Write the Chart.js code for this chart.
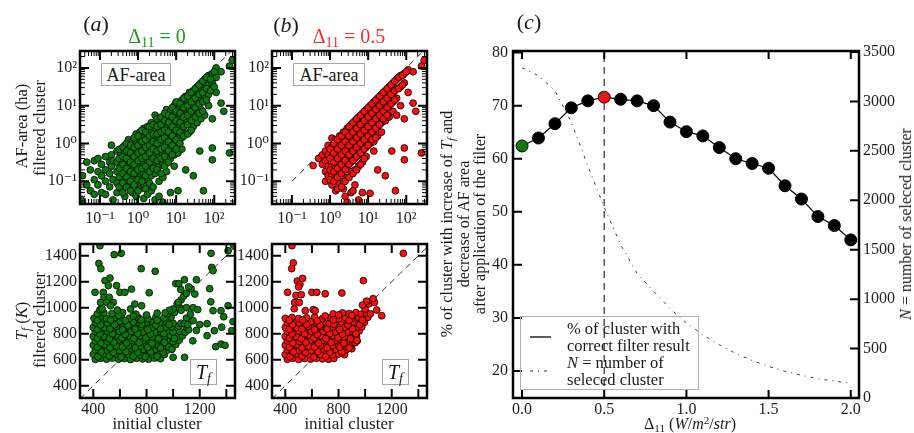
<!DOCTYPE html>
<html>
<head>
<meta charset="utf-8">
<script src="https://cdn.jsdelivr.net/npm/chart.js@4.4.1/dist/chart.umd.min.js"></script>
<style>
  html, body { margin: 0; padding: 0; background: #fff; }
  #fig { position: relative; width: 914px; height: 433px; overflow: hidden;
         font-family: "Liberation Serif", "DejaVu Serif", serif; color: #1a1a1a; }
  #fig canvas { position: absolute; z-index: 1; }
  .t { position: absolute; white-space: nowrap; line-height: 1; z-index: 3; }
  .c { transform: translate(-50%, -50%); }
  .r { transform: translate(-50%, -50%) rotate(-90deg); }
  .l { transform: translate(0, -50%); }
  .box { position: absolute; border: 1.5px solid #a6a6a6; background: #fff; box-sizing: border-box;
         display: flex; align-items: center; justify-content: center; z-index: 3; line-height: 1; }
  .legend { position: absolute; border: 1.5px solid #b0b0b0; box-sizing: border-box; z-index: 3; }
  i { font-style: italic; }
  sub { font-size: 0.7em; vertical-align: -0.25em; line-height: 0; }
  sup { font-size: 0.7em; vertical-align: 0.45em; line-height: 0; }
  svg { position: absolute; left: 0; top: 0; z-index: 3; }
</style>
</head>
<body>
<div id="fig">
  <!-- panel letters and titles -->
  <div class="t c" style="left:96px;top:24px;font-size:22px">(<i>a</i>)</div>
  <div class="t c" style="left:286px;top:25px;font-size:22px">(<i>b</i>)</div>
  <div class="t c" style="left:529px;top:22px;font-size:22px">(<i>c</i>)</div>
  <div class="t c" style="left:157px;top:36px;font-size:20px;color:#199a19">Δ<sub>11</sub> = 0</div>
  <div class="t c" style="left:349px;top:36px;font-size:20px;color:#ff2a2a">Δ<sub>11</sub> = 0.5</div>

  <!-- axis titles of panels (a) and (b) -->
  <div class="t r" style="left:22px;top:126px;font-size:16.5px">AF-area (ha)</div>
  <div class="t r" style="left:40px;top:128px;font-size:16.5px">filtered cluster</div>
  <div class="t r" style="left:22px;top:321px;font-size:16.5px"><i>T<sub>f</sub></i> (<i>K</i>)</div>
  <div class="t r" style="left:40px;top:320px;font-size:16.5px">filtered cluster</div>
  <div class="t c" style="left:157px;top:423px;font-size:17px">initial cluster</div>
  <div class="t c" style="left:349px;top:423px;font-size:17px">initial cluster</div>

  <!-- inset labels -->
  <div class="box" style="left:101px;top:63px;width:70px;height:23px;font-size:18px">AF-area</div>
  <div class="box" style="left:293px;top:63px;width:72px;height:23px;font-size:18px">AF-area</div>
  <div class="box" style="left:190px;top:359px;width:27px;height:26px;font-size:20px"><i>T<sub>f</sub></i></div>
  <div class="box" style="left:382px;top:359px;width:27px;height:26px;font-size:20px"><i>T<sub>f</sub></i></div>

  <!-- axis titles of panel (c) -->
  <div class="t r" style="left:447px;top:224px;font-size:16px">% of cluster with increase of <i>T<sub>f</sub></i> and</div>
  <div class="t r" style="left:464px;top:224px;font-size:16px">decrease of AF area</div>
  <div class="t r" style="left:480px;top:224px;font-size:16px">after application of the filter</div>
  <div class="t r" style="left:906px;top:224px;font-size:16px"><i>N</i> = number of seleced cluster</div>
  <div class="t c" style="left:690px;top:424px;font-size:16px">Δ<sub>11</sub> (<i>W</i>/<i>m</i><sup>2</sup>/<i>str</i>)</div>

  <!-- legend of panel (c) -->
  <div class="legend" style="left:520px;top:316px;width:179px;height:74px"></div>
  <svg width="914" height="433">
    <line x1="530" y1="337" x2="551" y2="337" stroke="#000" stroke-width="1.3"/>
    <line x1="530" y1="371" x2="552" y2="371" stroke="#333" stroke-width="1" stroke-dasharray="3 5 1 5"/>
  </svg>
  <div class="t l" style="left:567px;top:329px;font-size:16.5px">% of cluster with</div>
  <div class="t l" style="left:567px;top:346px;font-size:16.5px">correct filter result</div>
  <div class="t l" style="left:567px;top:363px;font-size:16.5px"><i>N</i> = number of</div>
  <div class="t l" style="left:567px;top:380px;font-size:16.5px">seleced cluster</div>
</div>

<script>
// ---------- data ----------
// AF-area (ha): [initial cluster, filtered cluster], threshold Δ11 = 0
const areaA = [
  [0.035,0.03],[0.035,0.14],[0.045,0.32],[0.045,0.08],[0.056,0.2],[0.056,0.056],
  [0.071,0.35],[0.071,0.11],[0.071,0.045],[0.089,0.4],[0.089,0.18],[0.089,0.08],
  [0.11,0.28],[0.11,0.14],[0.11,0.05],[0.14,0.45],[0.14,0.2],[0.14,0.1],[0.14,0.045],
  [0.18,0.32],[0.18,0.16],[0.18,0.071],[0.2,0.9],[0.2,0.5],[0.2,0.25],
  [0.22,0.35],[0.22,0.11],[0.22,0.032],[0.28,0.63],[0.28,0.32],[0.28,0.18],[0.28,0.089],[0.28,0.05],
  [0.35,0.5],[0.35,0.25],[0.35,0.126],[0.35,0.063],
  [0.45,0.9],[0.45,0.56],[0.45,0.35],[0.45,0.2],[0.45,0.1],[0.45,0.04],
  [0.56,1.26],[0.56,0.71],[0.56,0.4],[0.56,0.25],[0.56,0.14],[0.56,0.071],
  [0.71,1.12],[0.71,0.63],[0.71,0.35],[0.71,0.2],[0.71,0.11],[0.71,0.05],
  [0.89,1.78],[0.89,1.0],[0.89,0.56],[0.89,0.32],[0.89,0.18],[0.89,0.089],[0.89,0.04],
  [1.12,2.0],[1.12,1.26],[1.12,0.71],[1.12,0.45],[1.12,0.25],[1.12,0.126],[1.12,0.063],
  [1.41,2.5],[1.41,1.41],[1.41,0.89],[1.41,0.5],[1.41,0.28],[1.41,0.16],[1.41,0.08],[1.41,0.035],
  [1.78,2.8],[1.78,1.78],[1.78,1.0],[1.78,0.63],[1.78,0.35],[1.78,0.2],[1.78,0.11],[1.78,0.045],
  [2.24,3.55],[2.24,2.0],[2.24,1.26],[2.24,0.71],[2.24,0.45],[2.24,0.25],[2.24,0.14],[2.24,0.056],
  [2.8,5.6],[2.8,2.5],[2.8,1.58],[2.8,1.0],[2.8,0.56],[2.8,0.32],[2.8,0.16],[2.8,0.032],
  [3.55,3.55],[3.55,2.24],[3.55,1.26],[3.55,0.79],[3.55,0.45],[3.55,0.25],[3.55,0.1],[3.55,0.04],
  [4.5,4.0],[4.5,2.5],[4.5,1.58],[4.5,0.89],[4.5,0.5],[4.5,0.28],[4.5,0.126],[4.5,0.028],
  [5.6,7.9],[5.6,5.0],[5.6,3.16],[5.6,1.78],[5.6,1.0],[5.6,0.56],[5.6,0.32],[5.6,0.18],
  [7.1,7.1],[7.1,4.0],[7.1,2.24],[7.1,1.26],[7.1,0.71],[7.1,0.4],[7.1,0.05],
  [8.9,10],[8.9,5.6],[8.9,3.16],[8.9,1.78],[8.9,1.0],[8.9,0.5],[8.9,0.25],
  [11.2,11.2],[11.2,6.3],[11.2,3.55],[11.2,2.0],[11.2,1.12],[11.2,0.56],[11.2,0.056],
  [14.1,14.1],[14.1,7.9],[14.1,4.5],[14.1,2.5],[14.1,1.41],[14.1,0.71],
  [17.8,17.8],[17.8,10],[17.8,5.6],[17.8,3.16],[17.8,1.78],[17.8,0.2],
  [22.4,22.4],[22.4,12.6],[22.4,7.1],[22.4,4.0],[22.4,2.0],
  [28.2,25],[28.2,15.8],[28.2,8.9],[28.2,5.0],[28.2,2.8],[28.2,0.14],
  [35.5,31.6],[35.5,20],[35.5,11.2],[35.5,6.3],[35.5,3.55],[41.7,0.63],
  [44.7,40],[44.7,25],[44.7,14.1],[44.7,7.9],[44.7,4.5],[52,0.056],
  [56,50],[56,28.2],[56,15.8],[56,5.6],[71,63],[71,35.5],[71,20],[71,10],
  [89,71],[89,40],[89,4.5],[89,0.76],[89,0.37],[112,100],[112,56],[112,22.4],
  [151,11.7],[151,79],[178,7.1],[251,0.56],[251,112],[295,158],
  [0.32,0.7],[0.32,0.4],[0.32,0.22],[0.32,0.13],[0.32,0.071],
  [0.4,0.8],[0.4,0.45],[0.4,0.28],[0.4,0.16],[0.4,0.09],[0.4,0.05],
  [0.5,1.0],[0.5,0.63],[0.5,0.4],[0.5,0.22],[0.5,0.13],[0.5,0.07],
  [0.63,0.9],[0.63,0.56],[0.63,0.32],[0.63,0.18],[0.63,0.1],[0.63,0.056],
  [0.79,1.41],[0.79,0.79],[0.79,0.45],[0.79,0.28],[0.79,0.16],[0.79,0.08],
  [1.0,1.58],[1.0,0.89],[1.0,0.56],[1.0,0.35],[1.0,0.2],[1.0,0.11],[1.0,0.056],
  [1.26,2.24],[1.26,1.12],[1.26,0.63],[1.26,0.4],[1.26,0.22],[1.26,0.1],
  [1.58,2.0],[1.58,1.26],[1.58,0.79],[1.58,0.45],[1.58,0.25],[1.58,0.14],[1.58,0.063],
  [2.0,2.8],[2.0,1.58],[2.0,0.89],[2.0,0.56],[2.0,0.32],[2.0,0.18],[2.0,0.089],
  [2.5,3.16],[2.5,1.78],[2.5,1.12],[2.5,0.71],[2.5,0.4],[2.5,0.22],[2.5,0.071],
  [3.16,4.5],[3.16,2.8],[3.16,1.78],[3.16,1.0],[3.16,0.63],[3.16,0.35],[3.16,0.2],
  [4.0,5.0],[4.0,3.16],[4.0,2.0],[4.0,1.26],[4.0,0.71],[4.0,0.4],[4.0,0.16],
  [5.0,6.3],[5.0,4.0],[5.0,2.24],[5.0,1.41],[5.0,0.79],[5.0,0.45],[5.0,0.25],
  [6.3,5.6],[6.3,3.55],[6.3,2.0],[6.3,1.12],[6.3,0.63],[6.3,0.32],
  [7.9,8.9],[7.9,5.0],[7.9,2.8],[7.9,1.58],[7.9,0.89],[7.9,0.5],
  [10,12.6],[10,7.1],[10,4.0],[10,2.24],[10,1.26],[10,0.71],
  [12.6,11.2],[12.6,6.3],[12.6,3.55],[12.6,2.0],[12.6,1.0],
  [15.8,15.8],[15.8,8.9],[15.8,5.0],[15.8,2.8],[15.8,1.58],
  [20,17.8],[20,10],[20,5.6],[20,3.16],[20,1.78],
  [25,22.4],[25,12.6],[25,7.1],[25,4.0],[25,2.24],
  [31.6,28.2],[31.6,15.8],[31.6,8.9],[31.6,5.0],
  [40,35.5],[40,20],[40,11.2],[40,6.3],
  [50,44.7],[50,22.4],[50,12.6],[50,7.1],
  [63,56],[63,28.2],[63,14.1],[80,50],[80,25],[100,79],[100,31.6]
];

// AF-area (ha), threshold Δ11 = 0.5
const areaB = [
  [0.36,0.26],[0.5,0.4],[0.63,0.5],[0.63,0.28],
  [0.76,0.63],[0.76,0.35],[0.76,0.18],[0.76,0.1],
  [0.89,0.89],[0.89,0.5],[0.89,0.25],[0.89,0.14],
  [1.12,1.38],[1.12,0.79],[1.12,0.45],[1.12,0.25],[1.12,0.14],[1.12,0.08],
  [1.41,1.26],[1.41,0.71],[1.41,0.4],[1.41,0.22],[1.41,0.11],[1.41,0.056],
  [1.78,1.58],[1.78,0.89],[1.78,0.5],[1.78,0.28],[1.78,0.16],[1.78,0.089],
  [2.24,2.0],[2.24,1.12],[2.24,0.63],[2.24,0.35],[2.24,0.2],[2.24,0.1],[2.24,0.063],
  [2.8,2.5],[2.8,1.41],[2.8,0.79],[2.8,0.45],[2.8,0.25],[2.8,0.126],[2.8,0.028],
  [3.55,3.16],[3.55,1.78],[3.55,1.0],[3.55,0.56],[3.55,0.32],[3.55,0.18],[3.55,0.05],
  [4.5,4.0],[4.5,2.24],[4.5,1.26],[4.5,0.71],[4.5,0.4],[4.5,0.2],[4.5,0.08],
  [5.6,5.0],[5.6,2.8],[5.6,1.58],[5.6,0.89],[5.6,0.5],[5.6,0.25],[5.6,0.032],
  [7.1,6.3],[7.1,3.55],[7.1,2.0],[7.1,1.12],[7.1,0.63],[7.1,0.32],[7.1,0.05],
  [8.9,7.9],[8.9,4.5],[8.9,2.5],[8.9,1.41],[8.9,0.79],[8.9,0.45],
  [11.2,10],[11.2,5.6],[11.2,3.16],[11.2,1.78],[11.2,1.0],[11.2,0.048],
  [14.1,12.6],[14.1,7.1],[14.1,4.0],[14.1,2.24],[14.1,1.12],[14.1,0.63],
  [17.8,15.8],[17.8,8.9],[17.8,5.0],[17.8,2.8],[17.8,1.58],[17.8,0.2],
  [22.4,20],[22.4,11.2],[22.4,6.3],[22.4,3.55],[22.4,2.0],
  [28.2,25],[28.2,14.1],[28.2,7.9],[28.2,4.0],[28.2,0.14],
  [35.5,31.6],[35.5,17.8],[35.5,10],[35.5,5.0],[41.7,0.63],
  [44.7,40],[44.7,22.4],[44.7,12.6],[44.7,7.1],[52,0.056],
  [56,50],[56,28.2],[56,15.8],[56,5.6],[71,63],[71,31.6],[71,10],
  [89,71],[89,40],[89,4.5],[89,0.76],[89,0.37],[112,89],[112,22.4],
  [151,11.7],[151,79],[178,7.1],[251,0.56],[251,112],[295,158],
  [1.0,0.71],[1.0,0.4],[1.0,0.2],[1.0,0.11],
  [1.26,1.0],[1.26,0.56],[1.26,0.32],[1.26,0.18],[1.26,0.1],
  [1.58,1.26],[1.58,0.71],[1.58,0.4],[1.58,0.22],[1.58,0.126],[1.58,0.063],
  [2.0,1.58],[2.0,0.89],[2.0,0.5],[2.0,0.28],[2.0,0.16],[2.0,0.071],
  [2.5,2.0],[2.5,1.12],[2.5,0.63],[2.5,0.35],[2.5,0.2],[2.5,0.1],[2.5,0.04],
  [3.16,2.8],[3.16,1.58],[3.16,0.89],[3.16,0.5],[3.16,0.28],[3.16,0.126],
  [4.0,3.55],[4.0,2.0],[4.0,1.12],[4.0,0.63],[4.0,0.35],[4.0,0.16],[4.0,0.056],
  [5.0,4.5],[5.0,2.5],[5.0,1.41],[5.0,0.79],[5.0,0.45],[5.0,0.2],
  [6.3,5.6],[6.3,3.16],[6.3,1.78],[6.3,1.0],[6.3,0.56],[6.3,0.28],
  [7.9,7.1],[7.9,4.0],[7.9,2.24],[7.9,1.26],[7.9,0.71],[7.9,0.4],
  [10,8.9],[10,5.0],[10,2.8],[10,1.58],[10,0.89],
  [12.6,11.2],[12.6,6.3],[12.6,3.55],[12.6,2.0],[12.6,1.26],
  [15.8,14.1],[15.8,7.9],[15.8,4.5],[15.8,2.5],[15.8,1.41],
  [20,17.8],[20,10],[20,5.6],[20,3.16],
  [25,22.4],[25,12.6],[25,7.1],[25,4.5],
  [31.6,28.2],[31.6,15.8],[31.6,8.9],[31.6,5.6],
  [40,35.5],[40,20],[40,11.2],[50,44.7],[50,25],[50,14.1],
  [63,56],[63,28.2],[80,63],[80,35.5],[100,79]
];

// T_f (K): [initial cluster, filtered cluster], threshold Δ11 = 0
const tfA = [
  [415,602],[455,610],[500,604],[545,612],[590,603],[635,608],[680,601],[725,611],[770,606],[815,604],[860,612],[905,607],
  [400,641],[440,636],[485,645],[530,638],[575,644],[620,635],[665,642],[710,646],[755,637],[800,643],[845,639],[890,647],[935,640],
  [415,676],[460,681],[505,672],[550,679],[595,670],[640,677],[685,683],[730,674],[775,680],[820,671],[865,678],[910,684],[955,673],[990,681],
  [400,712],[440,707],[485,715],[530,709],[575,704],[620,713],[665,708],[710,716],[755,706],[800,711],[845,714],[890,705],[935,712],[980,709],[1020,716],
  [415,744],[460,750],[505,741],[550,747],[595,752],[640,743],[685,749],[730,740],[775,746],[820,751],[865,742],[910,748],[955,745],[1000,739],[1045,750],
  [400,779],[440,785],[485,776],[530,782],[575,788],[620,777],[665,783],[710,775],[755,786],[800,780],[845,774],[890,784],[935,778],[980,787],[1030,776],[1070,783],
  [415,816],[460,811],[505,820],[550,813],[595,818],[640,809],[685,817],[730,822],[775,812],[820,819],[865,810],[910,816],[955,821],[1000,813],[1050,818],[1090,811],
  [400,849],[440,855],[485,846],[530,852],[575,858],[620,847],[665,853],[710,844],[755,851],[800,857],[845,848],[890,854],[940,845],[990,852],[1040,858],[1100,850],
  [415,884],[460,890],[505,881],[550,887],[600,893],[650,882],[700,888],[750,879],[800,886],[850,891],[900,883],[950,889],[1000,880],
  [405,918],[450,925],[500,916],[555,922],[610,928],[670,917],[740,923],[810,915],[870,926],[930,920],[985,927],
  [430,952],[480,960],[540,955],[620,962],[720,950],[880,958],[960,953],[1010,963],
  [435,622],[520,628],[610,620],[700,627],[790,623],[880,626],[460,660],[550,655],[645,662],[735,657],[830,660],[925,658],
  [430,695],[525,690],[620,697],[715,692],[810,696],[905,690],[965,698],[455,728],[555,733],[650,726],[745,731],[840,727],[935,733],
  [430,765],[520,760],[615,767],[705,762],[795,768],[890,761],[1010,764],[450,798],[545,800],[640,794],[735,801],[830,797],[930,799],
  [430,832],[525,836],[620,829],[715,835],[810,831],[905,838],[455,868],[560,870],[660,865],[765,871],[870,866],[970,870],
  [430,902],[530,905],[640,900],[760,906],[880,903],[590,940],[700,936],[800,944],[450,985],[580,982],[680,990],
  [1000,990],[1030,1030],[1060,1060],[1080,1090],[1100,1110],[1050,1000],[970,980],[940,960],
  [450,1477],[557,1408],[610,1418],[442,1340],[457,1300],
  [413,1118],[488,1208],[525,1228],[513,1170],[575,1170],[600,1118],[637,1118],[687,1143],[475,1118],
  [480,1080],[520,1080],[455,1040],[500,1040],[550,1040],[467,990],[530,1015],[712,1028],[763,1015],
  [820,1115],[865,1280],[760,1300],
  [1020,1185],[1043,1185],[1085,1215],[1285,1418],[1413,1438],[1455,1480],[1290,1310],[1300,1285],
  [1175,1215],[1135,1145],[1163,1105],[1275,1146],[1283,1045],[1300,977],[1360,977],[1413,1015],
  [1380,930],[1450,893],[1310,823],[1365,850],[1440,823],[1320,700],[1360,720],[1390,710],
  [1255,785],[1255,877],[1148,745],[1086,618],[1000,618],[990,680],[1117,830],[1175,825],
  [1150,900],[1200,870],[1100,920],[1130,950],[1060,980],[1100,1000],[1150,1000],[1185,985],
  [1040,1040],[1057,1140],[1117,1160],[1060,880],[1085,875],[1110,870]
];

// T_f (K), threshold Δ11 = 0.5
const tfB = [
  [415,603],[455,610],[500,602],[545,609],[590,604],[635,611],[680,606],[725,603],[765,609],
  [400,640],[440,636],[485,645],[530,638],[575,644],[620,635],[665,642],[710,646],[755,637],[800,643],[845,638],
  [415,676],[460,681],[505,672],[550,679],[595,670],[640,677],[685,683],[730,674],[775,680],[820,671],[860,678],[900,684],
  [400,712],[440,707],[485,715],[530,709],[575,704],[620,713],[665,708],[710,716],[755,706],[800,711],[845,714],[890,705],
  [415,744],[460,750],[505,741],[550,747],[595,752],[640,743],[685,749],[730,740],[775,746],[820,751],[865,742],[910,748],[940,745],
  [400,779],[440,785],[485,776],[530,782],[575,788],[620,777],[665,783],[710,775],[755,786],[800,780],[845,774],[890,784],[935,778],
  [415,816],[460,811],[505,820],[550,813],[595,818],[640,809],[685,817],[730,822],[775,812],[820,819],[865,810],[910,816],[955,821],
  [400,849],[440,855],[485,846],[530,852],[575,858],[620,847],[665,853],[710,844],[755,851],[800,857],[845,848],[890,854],[935,845],[975,852],
  [415,884],[460,890],[505,881],[550,887],[595,893],[640,882],[685,888],[730,879],[775,886],[820,891],[865,883],[910,889],[955,880],[995,887],
  [400,918],[450,925],[500,916],[560,922],[620,928],[680,917],[740,923],[800,915],[850,926],[900,920],[950,927],[990,918],[1020,925],
  [760,952],[830,960],[880,955],[930,962],[970,950],[1010,958],[1040,953],
  [435,622],[525,626],[615,620],[705,625],[460,660],[550,655],[645,662],[735,657],[825,659],
  [430,695],[525,690],[620,697],[715,692],[810,696],[880,690],[455,728],[555,733],[650,726],[745,731],[840,727],[925,730],
  [430,765],[520,760],[615,767],[705,762],[795,768],[890,761],[450,798],[545,800],[640,794],[735,801],[830,797],[930,799],
  [430,832],[525,836],[620,829],[715,835],[810,831],[905,838],[455,868],[560,870],[660,865],[765,871],[870,866],[960,870],
  [430,902],[530,905],[640,900],[760,906],[880,903],[980,905],[700,936],[800,944],[900,940],
  [1000,990],[1030,1030],[1055,1055],[1070,1040],[1060,1070],[1010,1050],[980,1020],
  [450,1477],[460,1345],[448,1300],[490,1205],[510,1180],[530,1225],[500,1160],[417,1118],
  [480,1095],[520,1100],[470,1040],[505,1040],[467,992],[600,1118],[637,1118],[700,1107],
  [825,1113],[987,1208],[1087,982],[1125,938],[938,746],[1287,1418],[550,977],[610,985],[625,977]
];

// panel (c): threshold, share of correctly filtered clusters, number of selected clusters
const delta11 = [0.0,0.1,0.2,0.3,0.4,0.5,0.6,0.7,0.8,0.9,1.0,1.1,1.2,1.3,1.4,1.5,1.6,1.7,1.8,1.9,2.0];
const pctCorrect = [62.4,63.9,66.6,69.6,70.9,71.6,71.2,70.9,70.0,66.9,65.1,64.3,62.1,60.0,59.1,58.2,54.9,52.4,49.1,47.4,44.7];
const nSelected = [3340,3260,3110,2790,2350,1930,1550,1260,1080,905,760,640,540,450,380,320,270,230,195,170,150];

// tick values and labels
const logTicks = [0.1, 1, 10, 100];
const logLabels = ['10⁻¹', '10⁰', '10¹', '10²'];
const tfTicksY = [400, 600, 800, 1000, 1200, 1400];
const tfLabelsY = ['400', '600', '800', '1000', '1200', '1400'];
const tfTicksX = [400, 800, 1200];
const tfLabelsX = ['400', '800', '1200'];
const tfTickMarks = [400, 600, 800, 1000, 1200, 1400];
const cTicksX = [0, 0.5, 1, 1.5, 2];
const cLabelsX = ['0.0', '0.5', '1.0', '1.5', '2.0'];
const cTicksY = [20, 30, 40, 50, 60, 70, 80];
const cTicksN = [0, 500, 1000, 1500, 2000, 2500, 3000, 3500];

// ---------- drawing ----------
const fig = document.getElementById('fig');
const FONT = { family: "'Liberation Serif', 'DejaVu Serif', serif", size: 16 };
const L = 60, T = 16, B = 30;

function makeCanvas(rect, right) {
  const cv = document.createElement('canvas');
  const w = rect.w + L + right, h = rect.h + T + B;
  cv.width = w; cv.height = h;
  cv.style.left = (rect.x - L) + 'px';
  cv.style.top = (rect.y - T) + 'px';
  cv.style.width = w + 'px';
  cv.style.height = h + 'px';
  fig.insertBefore(cv, fig.firstChild);
  return cv;
}

function scale(o) {
  return {
    type: o.type, position: o.position, min: o.min, max: o.max,
    grid: { display: false, drawTicks: false },
    border: { display: false },
    ticks: {
      font: FONT, color: '#1e1e1e', padding: o.pad,
      autoSkip: false, maxRotation: 0, minRotation: 0,
      callback: (v, i) => o.labels[i]
    },
    afterBuildTicks: s => { s.ticks = o.ticks.map(v => ({ value: v })); },
    afterFit: s => { if (o.horizontal) s.height = o.size; else s.width = o.size; }
  };
}

function logMinor(min, max) {
  const out = [];
  for (let k = Math.floor(Math.log10(min)); k <= Math.ceil(Math.log10(max)); k++) {
    for (let m = 2; m <= 9; m++) {
      const v = m * Math.pow(10, k);
      if (v > min && v < max) out.push(v);
    }
  }
  return out;
}

// frame with inward tick marks on the chosen edges
function framePlugin(spec) {
  return {
    id: 'frameTicks',
    afterDatasetsDraw(chart) {
      const { ctx, chartArea: a, scales } = chart;
      ctx.save();
      ctx.strokeStyle = '#000';
      ctx.lineCap = 'butt';
      for (const s of spec) {
        const sc = scales[s.scale];
        const sets = [[s.major, s.len || 9, 2], [s.minor || [], 5, 1]];
        for (const [vals, len, lw] of sets) {
          ctx.lineWidth = lw;
          ctx.beginPath();
          for (const v of vals) {
            const p = sc.getPixelForValue(v);
            for (const e of s.edges) {
              if (e === 'bottom') { ctx.moveTo(p, a.bottom); ctx.lineTo(p, a.bottom - len); }
              if (e === 'top') { ctx.moveTo(p, a.top); ctx.lineTo(p, a.top + len); }
              if (e === 'left') { ctx.moveTo(a.left, p); ctx.lineTo(a.left + len, p); }
              if (e === 'right') { ctx.moveTo(a.right, p); ctx.lineTo(a.right - len, p); }
            }
          }
          ctx.stroke();
        }
      }
      ctx.lineWidth = 2.5;
      ctx.strokeRect(a.left, a.top, a.right - a.left, a.bottom - a.top);
      ctx.restore();
    }
  };
}

const baseOptions = (padRight) => ({
  responsive: false, animation: false, devicePixelRatio: 1, events: [],
  layout: { padding: { left: 0, right: padRight, top: T, bottom: 0 } },
  plugins: { legend: { display: false }, tooltip: { enabled: false }, title: { display: false } }
});

function scatterPanel(rect, points, color, diag, isLog) {
  const R = 6;
  const cv = makeCanvas(rect, R);
  const opts = baseOptions(R);
  let xs, ys, spec;
  if (isLog) {
    const xr = [0.03, 350], yr = [0.025, 280];
    xs = scale({ type: 'logarithmic', position: 'bottom', min: xr[0], max: xr[1], ticks: logTicks, labels: logLabels, pad: 5, horizontal: true, size: B });
    ys = scale({ type: 'logarithmic', position: 'left', min: yr[0], max: yr[1], ticks: logTicks, labels: logLabels, pad: 3, size: L });
    spec = [
      { scale: 'x', edges: ['bottom', 'top'], major: logTicks, minor: logMinor(xr[0], xr[1]) },
      { scale: 'y', edges: ['left', 'right'], major: logTicks, minor: logMinor(yr[0], yr[1]) }
    ];
  } else {
    xs = scale({ type: 'linear', position: 'bottom', min: 300, max: 1465, ticks: tfTicksX, labels: tfLabelsX, pad: 2, horizontal: true, size: B });
    ys = scale({ type: 'linear', position: 'left', min: 305, max: 1490, ticks: tfTicksY, labels: tfLabelsY, pad: 3, size: L });
    spec = [
      { scale: 'x', edges: ['bottom', 'top'], major: tfTickMarks },
      { scale: 'y', edges: ['left', 'right'], major: tfTickMarks }
    ];
  }
  opts.scales = { x: xs, y: ys };
  new Chart(cv, {
    type: 'scatter',
    data: {
      datasets: [
        { data: points, pointRadius: 3.4, pointBorderWidth: 0.9,
          backgroundColor: color, borderColor: '#101010',
          pointBackgroundColor: color, pointBorderColor: '#101010', clip: 0, order: 1 },
        { data: diag, showLine: true, pointRadius: 0, borderColor: '#333', borderWidth: 1,
          borderDash: [6, 5], clip: 0, order: 2 }
      ]
    },
    options: opts,
    plugins: [framePlugin(spec)]
  });
}

const GREEN = '#0a7a0a', RED = '#ff0c0c';
scatterPanel({ x: 80, y: 51, w: 155, h: 153 }, areaA, GREEN, [[0.03, 0.03], [400, 400]], true);
scatterPanel({ x: 272, y: 51, w: 155, h: 153 }, areaB, RED, [[0.1, 0.1], [400, 400]], true);
scatterPanel({ x: 80, y: 244, w: 155, h: 154 }, tfA, GREEN, [[300, 300], [1500, 1500]], false);
scatterPanel({ x: 272, y: 244, w: 155, h: 154 }, tfB, RED, [[300, 300], [1500, 1500]], false);

// panel (c)
(function () {
  const rect = { x: 513, y: 51, w: 346, h: 347 };
  const RC = 50;
  const cv = makeCanvas(rect, RC);
  const opts = baseOptions(0);
  opts.scales = {
    x: scale({ type: 'linear', position: 'bottom', min: -0.055, max: 2.05, ticks: cTicksX, labels: cLabelsX, pad: 2, horizontal: true, size: B }),
    y: scale({ type: 'linear', position: 'left', min: 14.9, max: 80.3, ticks: cTicksY, labels: cTicksY.map(String), pad: 5, size: L }),
    y2: scale({ type: 'linear', position: 'right', min: 0, max: 3510, ticks: cTicksN, labels: cTicksN.map(String), pad: 4, size: RC })
  };
  const markerFill = delta11.map(d => d === 0 ? GREEN : (d === 0.5 ? RED : '#000'));
  new Chart(cv, {
    type: 'line',
    data: {
      datasets: [
        { data: [{ x: 0.5, y: 14.9 }, { x: 0.5, y: 80.3 }], yAxisID: 'y', borderColor: '#555',
          borderWidth: 1.5, borderDash: [7, 5], pointRadius: 0, order: 0 },
        { data: delta11.map((d, i) => ({ x: d, y: pctCorrect[i] })), yAxisID: 'y',
          borderColor: '#000', borderWidth: 1.2, pointRadius: 6, pointBorderWidth: 1,
          pointBackgroundColor: markerFill, pointBorderColor: '#000', order: 1 },
        { data: delta11.map((d, i) => ({ x: d, y: nSelected[i] })), yAxisID: 'y2',
          borderColor: '#3a3a3a', borderWidth: 1, borderDash: [3, 5, 1, 5], pointRadius: 0,
          tension: 0, order: 2 }
      ]
    },
    options: opts,
    plugins: [framePlugin([
      { scale: 'x', edges: ['bottom', 'top'], major: cTicksX, len: 8 },
      { scale: 'y', edges: ['left'], major: cTicksY, len: 9 },
      { scale: 'y2', edges: ['right'], major: cTicksN, len: 9 }
    ])]
  });
})();
</script>
</body>
</html>
